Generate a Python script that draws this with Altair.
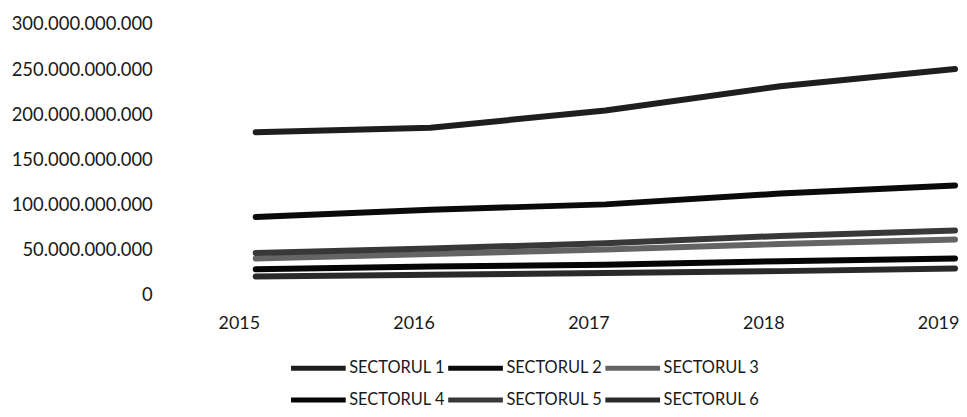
import altair as alt
import pandas as pd

years = ["2015", "2016", "2017", "2018", "2019"]
sectors = ["SECTORUL 1", "SECTORUL 2", "SECTORUL 3", "SECTORUL 4", "SECTORUL 5", "SECTORUL 6"]

sectorul_1 = [180_000_000_000, 185_000_000_000, 204_000_000_000, 231_000_000_000, 250_000_000_000]
sectorul_2 = [86_000_000_000, 94_000_000_000, 100_000_000_000, 112_000_000_000, 121_000_000_000]
sectorul_3 = [40_000_000_000, 45_000_000_000, 50_000_000_000, 56_000_000_000, 61_000_000_000]
sectorul_4 = [28_000_000_000, 31_000_000_000, 33_000_000_000, 37_000_000_000, 40_000_000_000]
sectorul_5 = [46_000_000_000, 51_000_000_000, 57_000_000_000, 65_000_000_000, 71_000_000_000]
sectorul_6 = [20_000_000_000, 22_000_000_000, 24_000_000_000, 26_000_000_000, 29_000_000_000]

y_ticks = [0, 50_000_000_000, 100_000_000_000, 150_000_000_000,
           200_000_000_000, 250_000_000_000, 300_000_000_000]

colors = ["#1e1e1e", "#0a0a0a", "#646464", "#050505", "#383838", "#2a2a2a"]

series = [sectorul_1, sectorul_2, sectorul_3, sectorul_4, sectorul_5, sectorul_6]
rows = []
for name, vals in zip(sectors, series):
    for yr, v in zip(years, vals):
        rows.append({"an": yr, "sector": name, "valoare": v})
df = pd.DataFrame(rows)

font = "Lato"
txt = "#1a1a1a"

chart = alt.Chart(df).mark_line(strokeWidth=6, strokeCap="round", strokeJoin="round").encode(
    x=alt.X("an:O", sort=years,
            scale=alt.Scale(type="point", padding=0),
            axis=alt.Axis(title=None, labelAngle=0, ticks=False, tickSize=0, domain=False,
                          labelPadding=20, labelOffset=-17, labelFontSize=18,
                          labelFont=font, labelColor=txt)),
    y=alt.Y("valoare:Q",
            scale=alt.Scale(domain=[0, 300_000_000_000], nice=False),
            axis=alt.Axis(title=None, values=y_ticks, format=",.0f", grid=False,
                          ticks=False, tickSize=0, domain=False, labelPadding=104,
                          labelFontSize=18.5, labelFont=font, labelColor=txt)),
    color=alt.Color("sector:N", sort=sectors,
                    scale=alt.Scale(domain=sectors, range=colors),
                    legend=alt.Legend(title=None, orient="none", legendX=33, legendY=332,
                                      direction="horizontal", columns=3,
                                      symbolType="stroke", symbolSize=3025,
                                      symbolStrokeWidth=5, clipHeight=28,
                                      rowPadding=4, columnPadding=-5, labelOffset=1,
                                      labelFontSize=16.5, labelFont=font, labelColor=txt,
                                      padding=0)),
).properties(
    width=703, height=272,
    autosize=alt.AutoSizeParams(type="none"),
    padding={"left": 249, "top": 15, "right": 4, "bottom": 121},
).configure(
    locale={"number": {"decimal": ",", "thousands": ".", "grouping": [3], "currency": ["", ""]}}
).configure_view(stroke=None)

chart.save("out.html", embed_options={"renderer": "svg", "actions": False})
